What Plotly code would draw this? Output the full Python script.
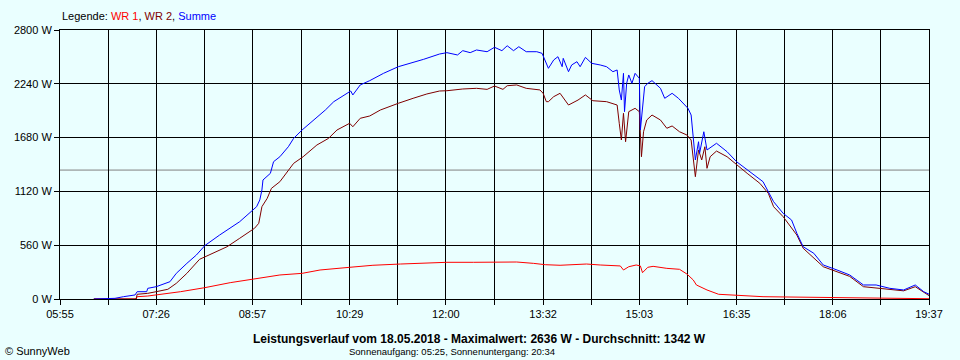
import plotly.graph_objects as go

# ---------------- data ----------------
x_tick_labels = ["05:55", "07:26", "08:57", "10:29", "12:00", "13:32",
                 "15:03", "16:35", "18:06", "19:37"]
y_tick_values = [0, 560, 1120, 1680, 2240, 2800]
y_tick_labels = ["0 W", "560 W", "1120 W", "1680 W", "2240 W", "2800 W"]
average_w = 1342

summe_time = ["06:27", "06:47", "06:55", "07:06", "07:08", "07:17", "07:18", "07:26",
              "07:39", "07:45", "07:55", "08:04", "08:12", "08:26", "08:45", "08:56",
              "09:01", "09:04", "09:06", "09:07", "09:14", "09:17", "09:23", "09:31",
              "09:36", "09:44", "09:55", "10:06", "10:14", "10:26", "10:30", "10:32",
              "10:39", "10:48", "10:58", "11:01", "11:15", "11:29", "11:39", "11:54",
              "12:01", "12:11", "12:16", "12:23", "12:29", "12:39", "12:46", "12:53",
              "12:58", "13:04", "13:09", "13:16", "13:26", "13:31", "13:34", "13:37",
              "13:42", "13:46", "13:50", "13:51", "13:56", "13:59", "14:04", "14:07",
              "14:12", "14:18", "14:26", "14:32", "14:38", "14:42", "14:44", "14:46",
              "14:48", "14:49", "14:51", "14:53", "14:56", "14:59", "15:03", "15:04",
              "15:08", "15:11", "15:15", "15:23", "15:27", "15:34", "15:40", "15:45",
              "15:49", "15:52", "15:54", "15:56", "15:59", "16:00", "16:04", "16:07",
              "16:16", "16:26", "16:35", "16:45", "16:54", "17:00", "17:05", "17:10",
              "17:19", "17:27", "17:32", "17:38", "17:48", "17:57", "18:10", "18:22",
              "18:35", "18:47", "19:00", "19:13", "19:24", "19:32", "19:37"]
summe_w = [0, 7, 24, 42, 76, 76, 111, 128,
           180, 267, 371, 458, 556, 666, 805, 909,
           961, 1031, 1135, 1239, 1308, 1429, 1481, 1585,
           1672, 1759, 1863, 1967, 2054, 2141, 2165, 2124,
           2228, 2273, 2332, 2349, 2418, 2460, 2495, 2550,
           2564, 2540, 2585, 2564, 2592, 2574, 2620, 2585,
           2636, 2585, 2626, 2574, 2574, 2557, 2488, 2401,
           2488, 2522, 2418, 2505, 2366, 2436, 2470, 2418,
           2515, 2453, 2436, 2418, 2366, 2384, 2176, 2071,
           2349, 1950, 2245, 2332, 2245, 2349, 2297, 1759,
           2210, 2245, 2273, 2193, 2089, 2141, 2089, 2037,
           1985, 1915, 1689, 1447, 1637, 1517, 1741, 1551,
           1621, 1533, 1429, 1343, 1273, 1221, 1117, 1013,
           892, 822, 684, 544, 476, 354, 302, 250,
           146, 146, 111, 94, 146, 76, 50]

wr2_time = ["06:27", "07:07", "07:08", "07:18", "07:26", "07:37", "07:45", "07:55",
            "08:07", "08:20", "08:26", "08:33", "08:45", "08:55", "08:59", "09:03",
            "09:06", "09:11", "09:15", "09:23", "09:29", "09:36", "09:45", "09:58",
            "10:09", "10:17", "10:29", "10:32", "10:39", "10:48", "10:58", "11:01",
            "11:15", "11:29", "11:42", "11:54", "12:01", "12:16", "12:29", "12:39",
            "12:46", "12:54", "12:58", "13:07", "13:16", "13:29", "13:32", "13:35",
            "13:37", "13:42", "13:48", "13:56", "14:05", "14:12", "14:19", "14:32",
            "14:42", "14:44", "14:46", "14:48", "14:50", "14:53", "14:59", "15:03",
            "15:05", "15:07", "15:10", "15:15", "15:23", "15:29", "15:34", "15:41",
            "15:48", "15:52", "15:54", "15:56", "15:59", "16:02", "16:05", "16:07",
            "16:10", "16:16", "16:26", "16:35", "16:45", "16:57", "17:05", "17:10",
            "17:19", "17:32", "17:38", "17:57", "18:10", "18:22", "18:35", "19:00",
            "19:13", "19:24", "19:37"]
wr2_w = [0, 0, 49, 59, 76, 101, 163, 267,
         413, 476, 510, 544, 632, 701, 736, 788,
         961, 1048, 1152, 1221, 1308, 1412, 1481, 1603,
         1672, 1759, 1829, 1793, 1881, 1905, 1967, 1978,
         2037, 2089, 2134, 2165, 2168, 2186, 2193, 2182,
         2217, 2182, 2220, 2228, 2193, 2176, 2141, 2054,
         2054, 2106, 2141, 2019, 2071, 2124, 2064, 2054,
         2019, 1829, 1655, 1933, 1637, 1950, 1985, 1950,
         1481, 1741, 1863, 1915, 1863, 1777, 1801, 1741,
         1707, 1655, 1447, 1273, 1551, 1447, 1585, 1360,
         1481, 1540, 1481, 1395, 1308, 1204, 1100, 961,
         857, 666, 528, 336, 284, 235, 128, 101,
         85, 128, 35]

wr1_time = ["06:27", "07:07", "07:08", "07:18", "07:49", "08:12", "08:36", "08:58",
            "09:23", "09:44", "10:01", "10:29", "10:51", "11:17", "11:42", "12:01",
            "12:26", "12:48", "13:07", "13:23", "13:34", "13:48", "14:04", "14:13",
            "14:26", "14:45", "14:48", "14:53", "15:00", "15:04", "15:06", "15:11",
            "15:16", "15:29", "15:41", "15:48", "15:54", "15:57", "16:07", "16:18",
            "17:00", "18:32", "19:09", "19:37"]
wr1_w = [0, 0, 24, 31, 76, 118, 170, 205,
         250, 267, 302, 330, 351, 364, 378, 382,
         382, 382, 385, 371, 357, 351, 357, 364,
         354, 344, 302, 336, 354, 344, 274, 330,
         340, 319, 309, 260, 198, 146, 94, 49,
         24, 10, 10, 3]


def to_min(s):
    h, m = s.split(":")
    return int(h) * 60 + int(m)


# ---------------- axes ----------------
label_pos = [to_min(s) for s in x_tick_labels]
tickvals, ticktext = [], []
for i, p in enumerate(label_pos):
    tickvals.append(p)
    ticktext.append(x_tick_labels[i])
    if i < len(label_pos) - 1:
        tickvals.append((p + label_pos[i + 1]) / 2)
        ticktext.append("")

BG = "#EAFFFF"
FONT = "Liberation Sans"

fig = go.Figure()
fig.add_trace(go.Scatter(x=[to_min(t) for t in wr1_time], y=wr1_w, mode="lines",
                         line=dict(color="#FF0000", width=1), name="WR 1"))
fig.add_trace(go.Scatter(x=[to_min(t) for t in wr2_time], y=wr2_w, mode="lines",
                         line=dict(color="#800000", width=1), name="WR 2"))
fig.add_trace(go.Scatter(x=[to_min(t) for t in summe_time], y=summe_w, mode="lines",
                         line=dict(color="#0000FF", width=1), name="Summe"))

fig.add_shape(type="line", xref="paper", x0=0, x1=1, yref="y",
              y0=average_w, y1=average_w, line=dict(color="#808080", width=1),
              layer="between")

fig.update_layout(
    width=960, height=360, autosize=False,
    paper_bgcolor=BG, plot_bgcolor=BG,
    margin=dict(l=60, r=31, t=30, b=61),
    showlegend=False,
    font=dict(family=FONT, size=11, color="black"),
    xaxis=dict(range=[label_pos[0], label_pos[-1]], tickvals=tickvals, ticktext=ticktext,
               showgrid=True, gridcolor="black", gridwidth=1,
               showline=True, linecolor="black", linewidth=1, mirror=True,
               ticks="outside", ticklen=5, tickcolor="black", tickwidth=1,
               zeroline=False, tickfont=dict(family=FONT, size=11)),
    yaxis=dict(range=[0, 2800], tickvals=y_tick_values, ticktext=y_tick_labels,
               showgrid=True, gridcolor="black", gridwidth=1,
               showline=True, linecolor="black", linewidth=1, mirror=True,
               ticks="outside", ticklen=5, tickcolor="black", tickwidth=1,
               zeroline=False, tickfont=dict(family=FONT, size=11)),
    annotations=[
        dict(xref="paper", yref="paper", x=0, y=1, yshift=6, xanchor="left", yanchor="bottom",
             showarrow=False, font=dict(family=FONT, size=11),
             text="Legende: <span style='color:#FF0000'>WR 1</span>, "
                  "<span style='color:#800000'>WR 2</span>, "
                  "<span style='color:#0000FF'>Summe</span>"),
        dict(xref="paper", yref="paper", x=0.4833, y=0, yshift=-31, xanchor="center",
             yanchor="top", showarrow=False, font=dict(family=FONT, size=12, color="black"),
             text="<b>Leistungsverlauf vom 18.05.2018 - Maximalwert: 2636 W - Durchschnitt: 1342 W</b>"),
        dict(xref="paper", yref="paper", x=0.451, y=0, yshift=-45, xanchor="center",
             yanchor="top", showarrow=False, font=dict(family=FONT, size=9.5),
             text="Sonnenaufgang: 05:25, Sonnenuntergang: 20:34"),
        dict(xref="paper", yref="paper", x=0, y=0, xshift=-57, yshift=-44, xanchor="left",
             yanchor="top", showarrow=False, font=dict(family=FONT, size=11),
             text="© SunnyWeb"),
    ],
)

fig.write_html("out.html", config={"displayModeBar": False},
               post_script="document.body.style.margin='0';"
                           "document.documentElement.style.overflow='hidden';")
